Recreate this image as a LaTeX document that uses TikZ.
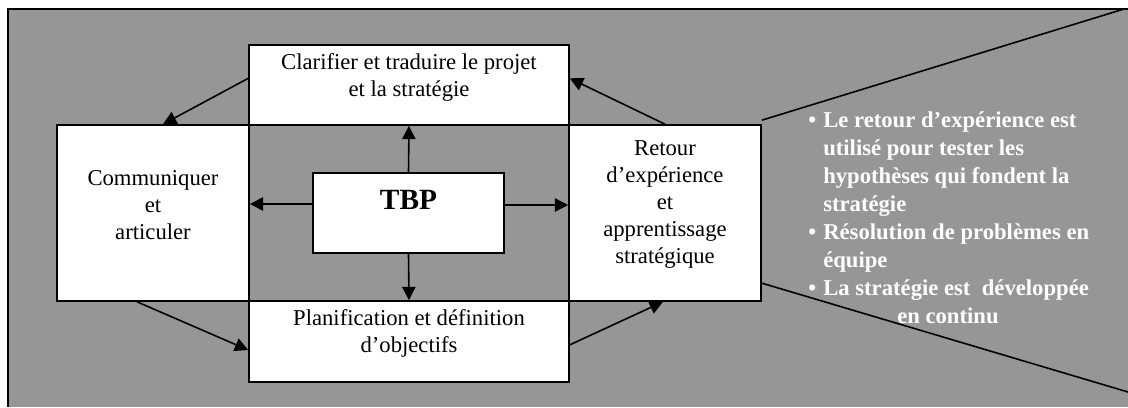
\documentclass[tikz,border=0pt]{standalone}
\usepackage{fontspec}
\setmainfont{Liberation Serif}
\usepackage{tikz}
\usetikzlibrary{arrows.meta, positioning, fit}
\definecolor{panelgray}{RGB}{150,150,150}

\begin{document}
\begin{tikzpicture}[x=0.75pt, y=-0.75pt,
    box/.style={draw=black, line width=1.2pt, fill=white, inner sep=0pt},
    boxtext/.style={align=center, font=\fontsize{17}{20.25}\selectfont},
    link/.style={-{Triangle[length=10pt,width=10pt]}, line width=1.2pt},
    callout/.style={line width=1.2pt},
    bullets/.style={text=white, align=left, inner sep=0pt,
      font=\bfseries\fontsize{17}{21}\selectfont}
  ]
  \useasboundingbox (0,0) rectangle (1128,407);

  % Grey panel
  \fill[panelgray] (8,9) rectangle (1128,407);
  \draw[line width=1.2pt] (8,407) -- (8,9) -- (1128,9);

  % Boxes
  \node[box, boxtext, fit={(249,45) (569,125)}] (clar)
    {Clarifier et traduire le projet\\et la stratégie};
  \node[box, fit={(57,125) (249,301)},
    label={[boxtext, yshift=6pt]center:{Communiquer\\et\\articuler}}] (com) {};
  \node[box, fit={(569,125) (761,301)},
    label={[boxtext, yshift=6pt]center:{Retour\\d’expérience\\et\\apprentissage\\stratégique}}] (ret) {};
  \node[box, boxtext, fit={(249,301) (569,382)}] (plan)
    {Planification et définition\\d’objectifs};
  \node[box, fit={(313,173) (504,253)},
    label={[boxtext, font=\bfseries\fontsize{22}{26}\selectfont, yshift=9.75pt]center:TBP}] (tbp) {};

  % Cycle
  \draw[link] ([yshift=5pt]clar.west) -- ([xshift=7.5pt]com.north);
  \draw[link] ([xshift=-12pt]com.south) -- ([yshift=-6.4pt]plan.west);
  \draw[link] ([yshift=-2.5pt]plan.east) -- ([xshift=-1.5pt]ret.south);
  \draw[link] (ret.north) -- ([yshift=5pt]clar.east);

  % From the centre
  \draw[link] (tbp.north) -- (clar.south);
  \draw[link] (tbp.south) -- (plan.north);
  \draw[link] ([yshift=6.75pt]tbp.west) -- ([yshift=6.75pt]tbp.west -| com.east);
  \draw[link] ([yshift=6pt]tbp.east) -- ([yshift=6pt]tbp.east -| ret.west);

  % Callout
  \coordinate (calltop) at (1124,9);
  \coordinate (callbot) at (1128,392);
  \draw[callout] ([yshift=3pt]ret.north east) -- (calltop);
  \draw[callout] ([yshift=14pt]ret.south east) -- (callbot);

  \node[bullets, anchor=west] (feedback) at (808,218) {%
    \makebox[11.25pt][l]{•}Le retour d’expérience est\\
    \hspace*{11.25pt}utilisé pour tester les\\
    \hspace*{11.25pt}hypothèses qui fondent la\\
    \hspace*{11.25pt}stratégie\\
    \makebox[11.25pt][l]{•}Résolution de problèmes en\\
    \hspace*{11.25pt}équipe\\
    \makebox[11.25pt][l]{•}La stratégie est\ \ développée\\
    \hspace*{66.75pt}en continu};
\end{tikzpicture}
\end{document}
